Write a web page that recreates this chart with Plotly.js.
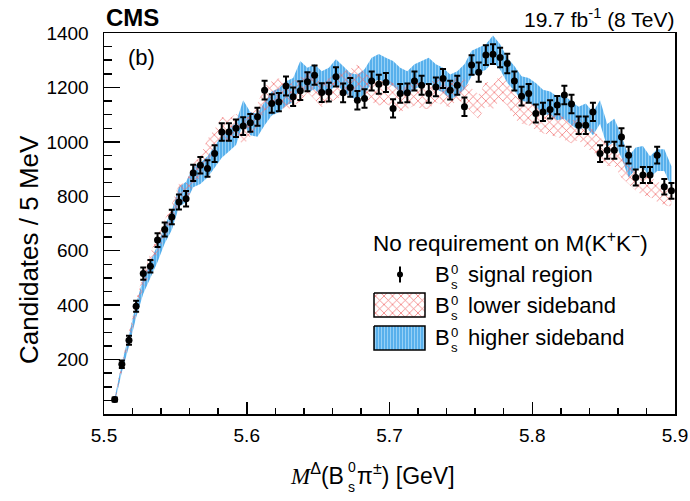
<!DOCTYPE html>
<html><head><meta charset="utf-8">
<script src="https://cdn.plot.ly/plotly-3.0.1.min.js"></script>
<style>html,body{margin:0;padding:0;background:#fff;}#chart{width:690px;height:501px;}</style>
</head><body><div id="chart"></div>
<script>
// ---- data (5 MeV bins starting at 5.505 GeV) ----
const binStart = 5.505;
const binWidth = 0.005;
const signalCounts = [53,183,271,396,516,543,639,678,724,779,
  791,886,914,902,957,1036,1036,1050,1058,1070,
  1092,1190,1141,1146,1205,1166,1188,1221,1245,1181,
  1183,1239,1180,1200,1153,1159,1224,1212,1218,1123,
  1178,1180,1224,1208,1178,1202,1233,1190,1208,1129,
  1282,1256,1319,1322,1310,1288,1224,1168,1178,1104,
  1110,1119,1135,1172,1139,1061,1061,1110,957,969,
  969,1018,951,869,878,878,951,835,820];
const lowerSideband = [50,175,280,390,490,560,625,680,735,810,
  810,884,908,970,1006,1049,1042,1061,1030,1061,
  1098,1159,1178,1190,1153,1178,1190,1227,1202,1172,
  1190,1202,1214,1221,1239,1208,1190,1178,1184,1172,
  1153,1165,1178,1165,1165,1190,1178,1172,1202,1184,
  1153,1129,1178,1165,1202,1178,1129,1110,1104,1086,
  1074,1067,1061,1049,1037,1049,1018,1006,976,951,
  951,908,884,859,841,835,817,804,798];
const higherSideband = [50,170,270,380,470,530,590,660,711,797,
  816,872,884,908,945,982,1006,1030,1110,1067,
  1061,1104,1141,1153,1178,1190,1251,1227,1239,1214,
  1227,1257,1233,1208,1202,1221,1263,1276,1263,1251,
  1227,1214,1239,1251,1263,1239,1227,1202,1214,1239,
  1288,1300,1312,1343,1312,1263,1233,1196,1190,1172,
  1147,1141,1123,1129,1104,1086,1098,1067,1110,1024,
  1043,982,908,939,945,908,933,933,872];
const xTickVals = [5.5,5.6,5.7,5.8,5.9];
const xTickText = ['5.5','5.6','5.7','5.8','5.9'];
const yTickVals = [200,400,600,800,1000,1200,1400];
const yTickText = ['200','400','600','800','1000','1200','1400'];

const massBins = signalCounts.map((_, i) => +(binStart + binWidth * (i + 0.5)).toFixed(4));

function bandPolygon(vals, scale) {
  const up = vals.map(v => v + scale * Math.sqrt(v));
  const dn = vals.map(v => Math.max(0, v - scale * Math.sqrt(v)));
  return {x: massBins.concat(massBins.slice().reverse()), y: up.concat(dn.slice().reverse())};
}

const FONT = 'Liberation Sans, Arial, Helvetica, sans-serif';
const redPattern = {shape:'x', fgcolor:'rgb(240,105,105)', bgcolor:'rgba(255,255,255,0)', size:6, solidity:0.22};
const bluePattern = {shape:'|', fgcolor:'rgb(150,208,246)', bgcolor:'rgb(88,176,236)', size:3, solidity:0.35};

const hb = bandPolygon(higherSideband, 1.3);
const lb = bandPolygon(lowerSideband, 1.3);

const traces = [
  {x: hb.x, y: hb.y, type:'scatter', mode:'none', fill:'toself', fillcolor:'rgb(88,176,236)', fillpattern: bluePattern, hoverinfo:'skip', showlegend:false},
  {x: lb.x, y: lb.y, type:'scatter', mode:'none', fill:'toself', fillcolor:'rgba(255,255,255,0)', fillpattern: redPattern, hoverinfo:'skip', showlegend:false},
  {x: massBins, y: signalCounts, type:'scatter', mode:'markers', marker:{size:7, color:'black'},
   error_y:{type:'data', array: signalCounts.map(v => Math.sqrt(v)), color:'black', thickness:2, width:3}, showlegend:false},
  // legend swatches on a pixel-overlay axis pair
  {x:[374,425,425,374,374], y:[293,293,317,317,293], xaxis:'x2', yaxis:'y2', type:'scatter', mode:'lines', fill:'toself',
   fillcolor:'rgba(255,255,255,0)', fillpattern: redPattern, line:{color:'black', width:1.5}, showlegend:false, hoverinfo:'skip'},
  {x:[374,425,425,374,374], y:[326,326,350,350,326], xaxis:'x2', yaxis:'y2', type:'scatter', mode:'lines', fill:'toself',
   fillcolor:'rgb(88,176,236)', fillpattern: bluePattern, line:{color:'black', width:1.5}, showlegend:false, hoverinfo:'skip'},
  {x:[400], y:[274.5], xaxis:'x2', yaxis:'y2', type:'scatter', mode:'markers', marker:{size:6, color:'black'},
   error_y:{type:'data', array:[8], color:'black', thickness:2, width:0}, showlegend:false, hoverinfo:'skip'}
];

const L = 104, R = 675, T = 33, B = 414;
const px = x => (x - L) / (R - L);
const py = y => (B - y) / (B - T);

const annotations = [];
function ann(text, x, y, size, xanchor, extra) {
  annotations.push(Object.assign({text, x: px(x), y: py(y), xref:'paper', yref:'paper', xanchor: xanchor || 'left', yanchor:'middle',
    showarrow:false, font:{family:FONT, size, color:'black'}}, extra || {}));
}
function bs0(xL, yc, size, rest) {
  ann('B', xL, yc, size, 'left');
  ann('0', xL + 0.74 * size, yc - 0.25 * size, size * 0.6, 'left');
  ann('s', xL + 0.74 * size, yc + 0.45 * size, size * 0.6, 'left');
  ann(rest, xL + 1.48 * size, yc, size, 'left');
}

ann('<b>CMS</b>', 104, 17, 24, 'left');
ann('19.7 fb<sup>-1</sup> (8 TeV)', 676, 18, 21, 'right');
ann('(b)', 126, 58, 22, 'left');
ann('No requirement on M(K<sup>+</sup>K<sup>\u2212</sup>)', 371, 242, 22.5, 'left');
bs0(433, 274.5, 22, 'signal region');
bs0(433, 305.5, 22, 'lower sideband');
bs0(433, 337.5, 22, 'higher sideband');
// x-axis title
ann("<span style='font-family:Liberation Serif'><i>M</i></span><sup>\u0394</sup>(B", 346, 474, 23, 'right');
ann('0', 346, 467, 14, 'left');
ann('s', 346, 487, 14, 'left');
ann('\u03c0<sup>\u00b1</sup>) [GeV]', 355, 474, 23, 'left');
// y-axis title
ann('Candidates / 5 MeV', 29, 250, 26, 'center', {textangle:-90});

const layout = {
  width:690, height:501,
  margin:{l:L, r:690-R, t:T, b:501-B},
  paper_bgcolor:'white', plot_bgcolor:'white',
  showlegend:false,
  xaxis:{range:[5.5,5.9], tickmode:'array', tickvals:xTickVals, ticktext:xTickText,
    showline:true, linecolor:'black', linewidth:1.5, mirror:true, showgrid:false, zeroline:false,
    ticks:'inside', ticklen:12, tickwidth:1.5, tickcolor:'black', ticklabelstandoff:4,
    tickfont:{family:FONT, size:19, color:'black'},
    minor:{tickmode:'linear', tick0:5.5, dtick:0.02, ticks:'inside', ticklen:6, tickwidth:1.5, tickcolor:'black', showgrid:false}},
  yaxis:{range:[0,1400], tickmode:'array', tickvals:yTickVals, ticktext:yTickText,
    showline:true, linecolor:'black', linewidth:1.5, mirror:true, showgrid:false, zeroline:false,
    ticks:'inside', ticklen:16, tickwidth:1.5, tickcolor:'black', ticklabelstandoff:10,
    tickfont:{family:FONT, size:19, color:'black'},
    minor:{tickmode:'linear', tick0:0, dtick:50, ticks:'inside', ticklen:8, tickwidth:1.5, tickcolor:'black', showgrid:false}},
  xaxis2:{overlaying:'x', anchor:'y2', range:[L,R], visible:false, fixedrange:true},
  yaxis2:{overlaying:'y', anchor:'x2', range:[B,T], visible:false, fixedrange:true},
  annotations
};

Plotly.newPlot('chart', traces, layout, {staticPlot:true, displayModeBar:false});
</script>
</body></html>
